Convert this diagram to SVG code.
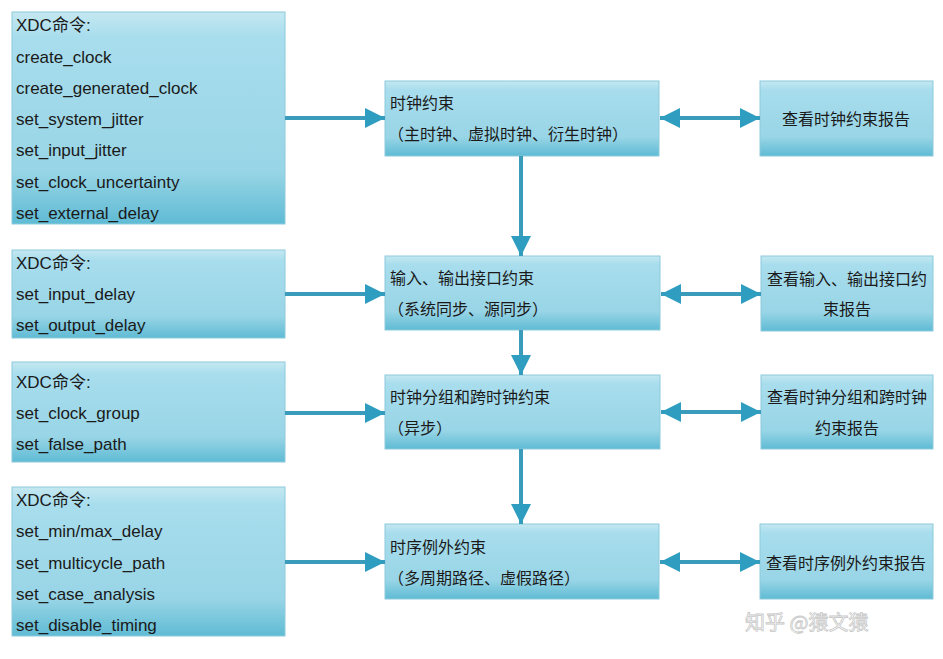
<svg xmlns="http://www.w3.org/2000/svg" width="943" height="659" viewBox="0 0 943 659">
<defs>
<linearGradient id="g" x1="0" y1="0" x2="0" y2="1">
<stop offset="0" stop-color="#c4e8f1"/>
<stop offset="0.12" stop-color="#a8dded"/>
<stop offset="0.75" stop-color="#98d5e6"/>
<stop offset="1" stop-color="#5fbbd4"/>
</linearGradient>
<marker id="ah" viewBox="0 0 20 20" refX="20" refY="10" markerWidth="20" markerHeight="20" markerUnits="userSpaceOnUse" orient="auto-start-reverse">
<path d="M0,0 L20,10 L0,20 Z" fill="#2f9dc0"/>
</marker>
<style>
.box{fill:url(#g);stroke:#8ccadb;stroke-width:1}
.t{font-family:"Liberation Sans","Noto Sans CJK SC",sans-serif;font-size:17px;fill:#1a1a1a}
.m{font-family:"Liberation Sans","Noto Sans CJK SC",sans-serif;font-size:16px;fill:#1a1a1a}
.c{text-anchor:middle}
.ln{stroke:#3a9cba;stroke-width:4;fill:none}
</style>
</defs>
<rect width="943" height="659" fill="#ffffff"/>

<g id="xdc1">
<rect class="box" x="12" y="12" width="273" height="212"/>
<text class="t" x="16" y="31">XDC命令:</text>
<text class="t" x="16" y="63">create_clock</text>
<text class="t" x="16" y="94">create_generated_clock</text>
<text class="t" x="16" y="125">set_system_jitter</text>
<text class="t" x="16" y="156">set_input_jitter</text>
<text class="t" x="16" y="188">set_clock_uncertainty</text>
<text class="t" x="16" y="219">set_external_delay</text>
</g>
<g id="xdc2">
<rect class="box" x="12" y="250" width="273" height="88"/>
<text class="t" x="16" y="269">XDC命令:</text>
<text class="t" x="16" y="300">set_input_delay</text>
<text class="t" x="16" y="331">set_output_delay</text>
</g>
<g id="xdc3">
<rect class="box" x="12" y="362" width="273" height="100"/>
<text class="t" x="16" y="388">XDC命令:</text>
<text class="t" x="16" y="419">set_clock_group</text>
<text class="t" x="16" y="450">set_false_path</text>
</g>
<g id="xdc4">
<rect class="box" x="12" y="487" width="273" height="149"/>
<text class="t" x="16" y="506">XDC命令:</text>
<text class="t" x="16" y="537">set_min/max_delay</text>
<text class="t" x="16" y="569">set_multicycle_path</text>
<text class="t" x="16" y="600">set_case_analysis</text>
<text class="t" x="16" y="631">set_disable_timing</text>
</g>

<g id="c1">
<rect class="box" x="385" y="81" width="274" height="75"/>
<text class="m" x="390" y="109">时钟约束</text>
<text class="m" x="388" y="140">（主时钟、虚拟时钟、衍生时钟）</text>
</g>
<g id="c2">
<rect class="box" x="385" y="256" width="275" height="74"/>
<text class="m" x="390" y="284">输入、输出接口约束</text>
<text class="m" x="388" y="315">（系统同步、源同步）</text>
</g>
<g id="c3">
<rect class="box" x="385" y="375" width="275" height="74"/>
<text class="m" x="390" y="403">时钟分组和跨时钟约束</text>
<text class="m" x="388" y="434">（异步）</text>
</g>
<g id="c4">
<rect class="box" x="385" y="524" width="274" height="75"/>
<text class="m" x="390" y="553">时序例外约束</text>
<text class="m" x="388" y="584">（多周期路径、虚假路径）</text>
</g>

<g id="r1">
<rect class="box" x="760" y="81" width="173" height="75"/>
<text class="m c" x="846" y="125">查看时钟约束报告</text>
</g>
<g id="r2">
<rect class="box" x="761" y="256" width="172" height="75"/>
<text class="m c" x="847" y="285">查看输入、输出接口约</text>
<text class="m c" x="847" y="315">束报告</text>
</g>
<g id="r3">
<rect class="box" x="761" y="375" width="172" height="74"/>
<text class="m c" x="847" y="403">查看时钟分组和跨时钟</text>
<text class="m c" x="847" y="434">约束报告</text>
</g>
<g id="r4">
<rect class="box" x="760" y="524" width="173" height="75"/>
<text class="m c" x="846" y="569">查看时序例外约束报告</text>
</g>

<g id="connectors">
<line class="ln" x1="285" y1="118" x2="385" y2="118" marker-end="url(#ah)"/>
<line class="ln" x1="285" y1="294" x2="385" y2="294" marker-end="url(#ah)"/>
<line class="ln" x1="285" y1="413" x2="385" y2="413" marker-end="url(#ah)"/>
<line class="ln" x1="285" y1="562" x2="385" y2="562" marker-end="url(#ah)"/>
<line class="ln" x1="521" y1="156" x2="521" y2="256" marker-end="url(#ah)"/>
<line class="ln" x1="521" y1="330" x2="521" y2="375" marker-end="url(#ah)"/>
<line class="ln" x1="521" y1="449" x2="521" y2="524" marker-end="url(#ah)"/>
<line class="ln" x1="660" y1="118" x2="760" y2="118" marker-start="url(#ah)" marker-end="url(#ah)"/>
<line class="ln" x1="661" y1="294" x2="761" y2="294" marker-start="url(#ah)" marker-end="url(#ah)"/>
<line class="ln" x1="661" y1="412" x2="761" y2="412" marker-start="url(#ah)" marker-end="url(#ah)"/>
<line class="ln" x1="660" y1="562" x2="760" y2="562" marker-start="url(#ah)" marker-end="url(#ah)"/>
</g>

<text x="745" y="630" font-family="'Noto Sans CJK SC',sans-serif" font-size="20" fill="#ffffff" stroke="#c8c8c8" stroke-width="0.8">知乎 @猿文猿</text>
</svg>
